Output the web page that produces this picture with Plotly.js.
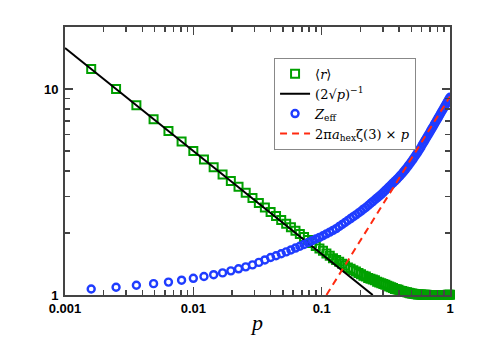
<!DOCTYPE html>
<html>
<head>
<meta charset="utf-8">
<script src="https://cdn.plot.ly/plotly-3.0.1.min.js"></script>
<style>
  html, body { margin: 0; padding: 0; background: #fff; }
  #chart { width: 501px; height: 354px; }
</style>
</head>
<body>
<div id="chart"></div>
<script>
// p values of the simulated points
const pVals = [
  0.0016, 0.0025, 0.0036, 0.0049, 0.0064, 0.0081, 0.01, 0.0121, 0.0144, 0.0169,
  0.0196, 0.0225, 0.0256, 0.0289, 0.0324, 0.0361, 0.04, 0.0441, 0.0484, 0.0529,
  0.0576, 0.0625, 0.0676, 0.0729, 0.0784, 0.0841, 0.09, 0.0961, 0.1024, 0.1089,
  0.1156, 0.1225, 0.1296, 0.1369, 0.1444, 0.1521, 0.16, 0.1681, 0.1764, 0.1849,
  0.1936, 0.2025, 0.2116, 0.2209, 0.2304, 0.2401, 0.25, 0.2601, 0.2704, 0.2809,
  0.2916, 0.3025, 0.3136, 0.3249, 0.3364, 0.3481, 0.36, 0.3721, 0.3844, 0.3969,
  0.4096, 0.4225, 0.4356, 0.4489, 0.4624, 0.4761, 0.49, 0.5041, 0.5184, 0.5329,
  0.5476, 0.5625, 0.5776, 0.5929, 0.6084, 0.6241, 0.64, 0.6561, 0.6724, 0.6889,
  0.7056, 0.7225, 0.7396, 0.7569, 0.7744, 0.7921, 0.81, 0.8281, 0.8464, 0.8649,
  0.8836, 0.9025, 0.9216, 0.9409, 0.9604, 0.9801, 1.0
];

// <r> (green squares)
const rMean = [
  12.50, 10.00, 8.33, 7.14, 6.25, 5.56, 5.00, 4.55, 4.17, 3.85,
  3.58, 3.35, 3.14, 2.96, 2.80, 2.66, 2.53, 2.42, 2.31, 2.22,
  2.13, 2.05, 1.98, 1.91, 1.85, 1.79, 1.73, 1.68, 1.64, 1.59,
  1.55, 1.51, 1.48, 1.45, 1.42, 1.39, 1.36, 1.34, 1.32, 1.30,
  1.28, 1.26, 1.24, 1.23, 1.21, 1.20, 1.19, 1.18, 1.16, 1.15,
  1.14, 1.13, 1.12, 1.11, 1.10, 1.09, 1.08, 1.07, 1.065, 1.06,
  1.05, 1.045, 1.04, 1.035, 1.03, 1.025, 1.02, 1.017, 1.014, 1.011,
  1.009, 1.007, 1.006, 1.005, 1.004, 1.003, 1.002, 1.002, 1.001, 1.001,
  1.001, 1.0005, 1.0005, 1.0005, 1.0005, 1.0005, 1.0005, 1.0005, 1.0005, 1.0005,
  1.0005, 1.0005, 1.001, 1.001, 1.002, 1.003, 1.004
];

// Z_eff (blue circles)
const zEff = [
  1.07, 1.09, 1.115, 1.135, 1.155, 1.18, 1.205, 1.23, 1.255, 1.28,
  1.31, 1.34, 1.37, 1.40, 1.44, 1.48, 1.52, 1.55, 1.585, 1.62,
  1.655, 1.69, 1.725, 1.76, 1.80, 1.835, 1.87, 1.905, 1.94, 1.98,
  2.02, 2.06, 2.10, 2.15, 2.20, 2.25, 2.30, 2.35, 2.40, 2.45,
  2.50, 2.55, 2.61, 2.66, 2.72, 2.78, 2.84, 2.90, 2.96, 3.02,
  3.08, 3.15, 3.22, 3.29, 3.36, 3.43, 3.50, 3.57, 3.64, 3.72,
  3.80, 3.88, 3.97, 4.06, 4.16, 4.26, 4.36, 4.47, 4.58, 4.70,
  4.82, 4.94, 5.07, 5.20, 5.36, 5.50, 5.65, 5.80, 5.95, 6.10,
  6.26, 6.42, 6.58, 6.75, 6.92, 7.09, 7.26, 7.44, 7.62, 7.80,
  7.98, 8.17, 8.36, 8.55, 8.74, 8.93, 9.12
];

// (2 sqrt p)^-1 guide line
const invX = [0.001, 0.25];
const invY = [15.81, 1.0];

// 2 pi a_hex zeta(3) x p guide line
const linX = [0.109, 1.0];
const linY = [1.0, 9.2];

// axis ticks
const xTicks = [0.001, 0.01, 0.1, 1];
const xTickText = ['0.001', '0.01', '0.1', '1'];
const yTicks = [1, 10];
const yTickText = ['1', '10'];
const xMinor = [0.002, 0.003, 0.004, 0.005, 0.006, 0.007, 0.008, 0.009,
  0.02, 0.03, 0.04, 0.05, 0.06, 0.07, 0.08, 0.09,
  0.2, 0.3, 0.4, 0.5, 0.6, 0.7, 0.8, 0.9];
const yMinor = [2, 3, 4, 5, 6, 7, 8, 9, 20];

const traces = [
  {
    x: pVals, y: rMean, mode: 'markers', name: '⟨<i>r</i>⟩',
    marker: { symbol: 'square-open', size: 8, color: '#00a000', line: { width: 2, color: '#00a000' } },
    cliponaxis: false
  },
  {
    x: invX, y: invY, mode: 'lines', name: '(2√<i>p</i>)<sup>−1</sup>',
    line: { color: '#000', width: 2 }
  },
  {
    x: pVals, y: zEff, mode: 'markers', name: '<i>Z</i><sub>eff</sub>',
    marker: { symbol: 'circle-open', size: 7, color: '#1f3cff', line: { width: 2.4, color: '#1f3cff' } }
  },
  {
    x: linX, y: linY, mode: 'lines', name: '2π<i>a</i><sub>hex</sub>ζ(3) × <i>p</i>',
    line: { color: '#ff2a10', width: 2, dash: '7px,5px' }
  }
];

const axisCommon = {
  type: 'log',
  showgrid: false,
  zeroline: false,
  showline: true,
  linecolor: '#444',
  linewidth: 2,
  mirror: 'allticks',
  ticks: 'inside',
  ticklen: 8,
  tickwidth: 1.5,
  tickcolor: '#444',
  tickfont: { family: 'Liberation Sans, Arial, sans-serif', size: 13, color: '#000', weight: 'bold' }
};

const layout = {
  width: 501,
  height: 354,
  margin: { l: 65, r: 51, t: 27, b: 59 },
  paper_bgcolor: '#fff',
  plot_bgcolor: '#fff',
  showlegend: true,
  legend: {
    x: 0.543, y: 0.885, xanchor: 'left', yanchor: 'top',
    bgcolor: '#fff', bordercolor: '#888', borderwidth: 1,
    font: { family: 'DejaVu Serif, Liberation Serif, serif', size: 13, color: '#000' },
    itemwidth: 30
  },
  xaxis: {
    ...axisCommon,
    range: [-3, 0],
    tickvals: xTicks,
    ticktext: xTickText,
    minor: { tickvals: xMinor, ticks: 'inside', ticklen: 5, tickcolor: '#444', tickwidth: 1.5, showgrid: false },
    title: { text: '<i>p</i>', font: { family: 'Liberation Serif, DejaVu Serif, serif', size: 22, color: '#000' }, standoff: 0 }
  },
  yaxis: {
    ...axisCommon,
    range: [0, Math.log10(20)],
    tickvals: yTicks,
    ticktext: yTickText,
    ticklabelstandoff: 2,
    minor: { tickvals: yMinor, ticks: 'inside', ticklen: 5, tickcolor: '#444', tickwidth: 1.5, showgrid: false }
  }
};

Plotly.newPlot('chart', traces, layout, { displayModeBar: false, staticPlot: true });
</script>
</body>
</html>
